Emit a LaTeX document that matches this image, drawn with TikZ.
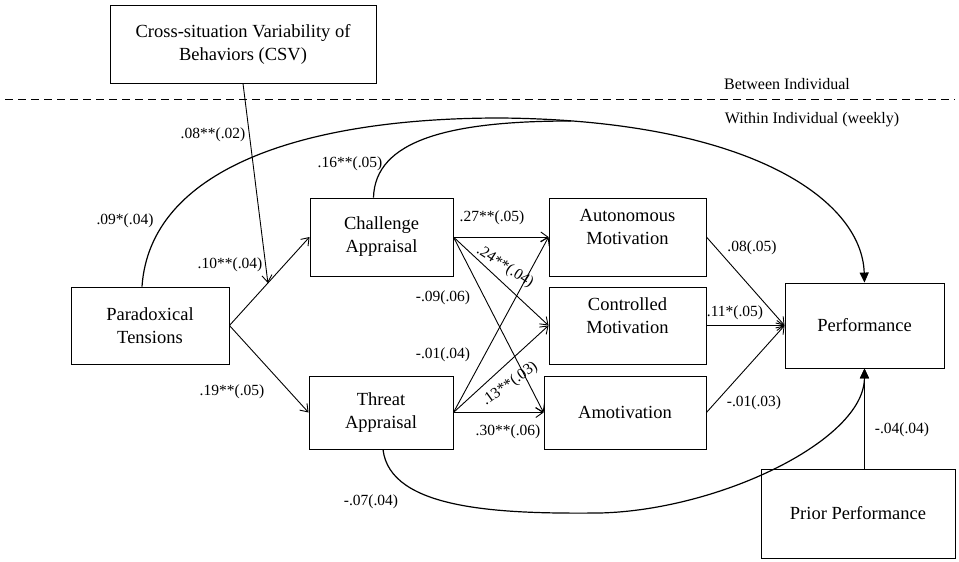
\documentclass[tikz,border=0pt]{standalone}
\usepackage{fontspec}
\setmainfont{Liberation Serif}
\usetikzlibrary{arrows.meta,calc}
\begin{document}
\begin{tikzpicture}[x=1pt,y=-1pt,
  box/.style={draw,line width=0.9pt,align=center,inner sep=0pt,font=\fontsize{18.5}{23}\selectfont},
  lab/.style={font=\fontsize{15.5}{18}\selectfont,inner sep=1pt},
  hdr/.style={font=\fontsize{16}{19}\selectfont,inner sep=1pt},
  arr/.style={line width=0.9pt,-{Straight Barb[length=7pt,width=10pt]}},
  plain/.style={line width=1.2pt},
  barr/.style={line width=1.2pt,-{Triangle[length=10pt,width=9pt]}},
]
\useasboundingbox[fill=white] (0,0) rectangle (959,562);
% boxes
\node[box,minimum width=266pt,minimum height=78pt] (csv) at (243,44) {Cross-situation Variability of\\Behaviors (CSV)};
\node[box,minimum width=158pt,minimum height=77pt] (par) at (150,325.5) {Paradoxical\\Tensions};
\node[box,minimum width=143pt,minimum height=78pt] (ch) at (381.5,237) {Challenge\\Appraisal};
\node[box,minimum width=144pt,minimum height=73pt] (th) at (381,412.5) {Threat\\Appraisal};
\node[box,minimum width=157pt,minimum height=78pt] (aut) at (627.5,237) {Autonomous\\Motivation\\[-3pt]~};
\node[box,minimum width=157pt,minimum height=77pt] (con) at (627.5,325.5) {Controlled\\Motivation\\[-3pt]~};
\node[box,minimum width=162pt,minimum height=73pt] (amo) at (625,412.5) {Amotivation};
\node[box,minimum width=159pt,minimum height=85pt] (perf) at (864.5,325.5) {Performance};
\node[box,minimum width=194pt,minimum height=89pt] (prior) at (858,513.5) {Prior Performance};
% level separator
\coordinate (dl) at (5,99);
\coordinate (dr) at (955,99);
\draw[line width=0.9pt,dash pattern=on 8pt off 5pt] (dl) -- (dr);
\node[hdr] (between) at (787,84) {Between Individual};
\node[hdr] (within) at (812,120) {Within Individual (weekly)};
% moderation
\coordinate (mod) at ($(par.east)!0.48!(ch.west)$);
\draw[arr] (par.east) -- (ch.west);
\draw[arr] (par.east) -- (th.west);
\draw[arr] (csv.south) -- (mod);
% appraisal -> motivation
\draw[arr] (ch.east) -- (aut.west);
\draw[arr] (ch.east) -- (con.west);
\draw[arr] (ch.east) -- (amo.west);
\draw[arr] (th.east) -- (aut.west);
\draw[arr] (th.east) -- (con.west);
\draw[arr] (th.east) -- (amo.west);
% motivation -> performance
\draw[arr] (aut.east) -- (perf.west);
\draw[arr] (con.east) -- (perf.west);
\draw[arr] (amo.east) -- (perf.west);
% prior performance
\draw[barr] (perf.south |- prior.north) -- (perf.south);
% long curves
\coordinate (ptop) at ($(par.north)+(-8,0)$);
\coordinate (ctop) at ($(ch.north)+(-8,0)$);
\coordinate (apex) at (500,118);
\coordinate (merge) at (571,121);
\draw[barr] (ptop) .. controls (150,170) and (300,118) .. (apex)
  .. controls (750,120) and (862,200) .. (perf.north);
\draw[plain] (ctop) .. controls (375,140) and (450,121) .. (merge);
\coordinate (thb) at ($(th.south)+(2,0)$);
\coordinate (low) at (600,513);
\draw[barr] (thb) .. controls (390,510) and (500,514) .. (low)
  .. controls (720,510) and (864,440) .. (perf.south);
% labels
\node[lab] (l1) at (213,135) {.08**(.02)};
\node[lab] (l2) at (350,164) {.16**(.05)};
\node[lab] (l3) at (125,221) {.09*(.04)};
\node[lab] (l4) at (230,265) {.10**(.04)};
\node[lab] (l5) at (232,392) {.19**(.05)};
\node[lab] (l6) at (492,218) {.27**(.05)};
\node[lab,rotate=-33] (l7) at (505,267) {.24**(.04)};
\node[lab] (l8) at (443,298) {-.09(.06)};
\node[lab] (l9) at (443,355) {-.01(.04)};
\node[lab,rotate=36] (l10) at (510,384) {.13**(.03)};
\node[lab] (l11) at (508,432) {.30**(.06)};
\node[lab] (l12) at (752,248) {.08(.05)};
\node[lab] (l13) at (735,313) {.11*(.05)};
\node[lab] (l14) at (754,403) {-.01(.03)};
\node[lab] (l15) at (902,430) {-.04(.04)};
\node[lab] (l16) at (371,502) {-.07(.04)};
\end{tikzpicture}
\end{document}
